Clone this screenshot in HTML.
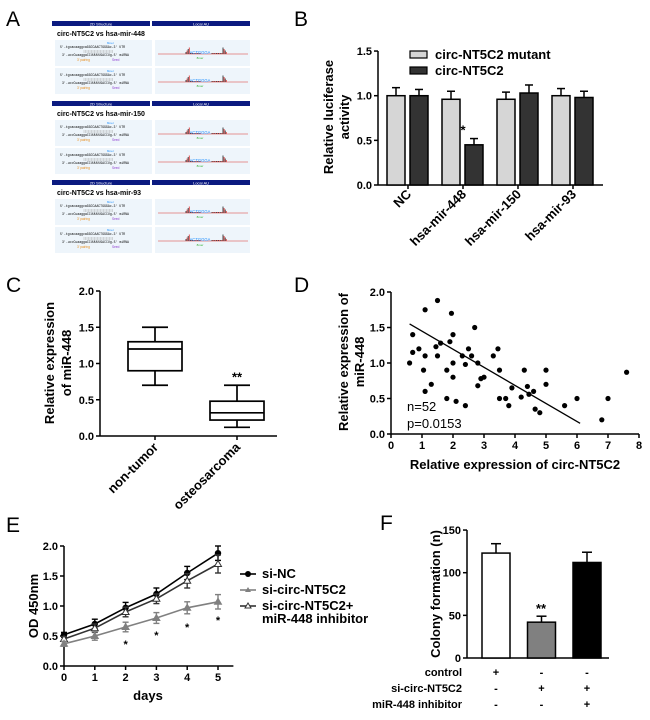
<!DOCTYPE html>
<html><head><meta charset="utf-8"><style>
body{margin:0;background:#fff}
svg{display:block;font-family:"Liberation Sans",Arial,sans-serif}
.t{font-weight:bold;font-size:11px}
.ttl{font-weight:bold;font-size:13px}
.pl{font-size:21px}
</style></head><body>
<svg id="s" width="650" height="720" viewBox="0 0 650 720">
<g>
<text class="pl" x="6" y="26">A</text><text class="pl" x="294" y="26">B</text>
<text class="pl" x="6" y="292">C</text><text class="pl" x="294" y="292">D</text>
<text class="pl" x="6" y="532">E</text><text class="pl" x="380" y="530">F</text>
</g>
<g id="pa"></g>
<g id="pb"></g>
<g id="pc"></g>
<g id="pd"></g>
<g id="pe"></g>
<g id="pf"></g>
</svg>
<script>
// Panel B data
const bCats=["NC","hsa-mir-448","hsa-mir-150","hsa-mir-93"];
const bMutant=[1.0,0.96,0.96,1.0];
const bMutantErr=[0.09,0.09,0.08,0.08];
const bCirc=[1.0,0.45,1.03,0.98];
const bCircErr=[0.07,0.07,0.09,0.07];
const bTicks=["0.0","0.5","1.0","1.5"];
// Panel C data
const cCats=["non-tumor","osteosarcoma"];
const cMin=[0.7,0.12],cQ1=[0.9,0.22],cMed=[1.2,0.32],cQ3=[1.3,0.48],cMax=[1.5,0.7];
const cTicks=["0.0","0.5","1.0","1.5","2.0"];
// Panel D data
const dX=[0.6,0.7,0.7,0.9,1.05,1.1,1.1,1.1,1.3,1.45,1.5,1.5,1.6,1.8,1.8,1.9,1.95,2.0,2.0,2.0,2.1,2.3,2.4,2.4,2.5,2.6,2.7,2.8,2.8,2.9,3.0,3.3,3.45,3.5,3.5,3.7,3.8,3.9,4.2,4.3,4.4,4.45,4.6,4.65,4.8,5.0,5.0,5.6,6.0,6.8,7.0,7.6];
const dY=[1.0,1.4,1.15,1.2,0.9,1.75,1.1,0.6,0.7,1.23,1.88,1.1,1.28,0.9,0.5,1.3,1.7,1.4,1.0,0.8,0.46,1.1,0.98,0.4,1.2,1.1,1.5,1.0,0.68,0.78,0.8,1.1,1.2,0.9,0.5,0.5,0.4,0.65,0.52,0.9,0.67,0.56,0.6,0.35,0.3,0.9,0.7,0.4,0.5,0.2,0.5,0.87];
const dFitX=[0.6,6.1],dFitY=[1.55,0.15];
const dXTicks=["0","1","2","3","4","5","6","7","8"];
const dYTicks=["0.0","0.5","1.0","1.5","2.0"];
// Panel E data
const eDays=[0,1,2,3,4,5];
const eNC=[0.52,0.7,0.97,1.2,1.55,1.88],eNCErr=[0.04,0.08,0.09,0.1,0.11,0.12];
const eSi=[0.37,0.5,0.65,0.8,0.97,1.07],eSiErr=[0.04,0.07,0.08,0.09,0.1,0.12];
const eInh=[0.45,0.63,0.9,1.12,1.42,1.7],eInhErr=[0.04,0.07,0.08,0.08,0.12,0.15];
const eStars=[null,null,0.4,0.55,0.68,0.8];
const eYTicks=["0.0","0.5","1.0","1.5","2.0"];
// Panel F data
const fVals=[123,42,112],fErr=[11,7,12];
const fColors=["#fff","#808080","#000"];
const fYTicks=[0,50,100,150];
const fRows=["control","si-circ-NT5C2","miR-448 inhibitor"];
const fSigns=[["+","-","-"],["-","+","+"],["-","-","+"]];

const NS="http://www.w3.org/2000/svg";
function mk(p,tag,a,txt){const e=document.createElementNS(NS,tag);for(const k in a)e.setAttribute(k,a[k]);if(txt!==undefined)e.textContent=txt;p.appendChild(e);return e;}
function ln(p,x1,y1,x2,y2,c,w){return mk(p,"line",{x1,y1,x2,y2,stroke:c||"#000","stroke-width":w||1.5});}
function errbar(p,x,y0,y1,hw){ln(p,x,y0,x,y1,"#000",1.5);ln(p,x-hw,y1,x+hw,y1,"#000",1.5);}

// ---------- Panel A ----------
(function(){
 const g=document.getElementById("pa");
 const blocks=[{y:21,t:"circ-NT5C2 vs hsa-mir-448"},{y:101,t:"circ-NT5C2 vs hsa-mir-150"},{y:180,t:"circ-NT5C2 vs hsa-mir-93"}];
 blocks.forEach((b,bi)=>{
  const h1=mk(g,"rect",{x:52,y:b.y,width:98,height:5,fill:"#0b1a80"});
  mk(g,"rect",{x:152,y:b.y,width:98,height:5,fill:"#0b1a80"});
  mk(g,"text",{x:101,y:b.y+4.3,"font-size":"4","text-anchor":"middle",fill:"#fff"},"2D Structure");
  mk(g,"text",{x:201,y:b.y+4.3,"font-size":"4","text-anchor":"middle",fill:"#fff"},"Local AU");
  const tt=mk(g,"text",{x:57,y:b.y+15,"font-size":"7","font-weight":"bold"},b.t);
  for(let s=0;s<2;s++){
   const y=b.y+19+s*28;
   mk(g,"rect",{x:55,y:y,width:97,height:26,fill:"#eef5fb"});
   mk(g,"rect",{x:155,y:y,width:95,height:26,fill:"#eef5fb"});
   mk(g,"text",{x:60,y:y+8,"font-size":"3.2","font-family":"Liberation Mono"},"5'-tgcacaaggcaGGCCAACTGGGAc-3' UTR");
   mk(g,"text",{x:62,y:y+16,"font-size":"3.2","font-family":"Liberation Mono"},"3'-uccCuaaggaCCUUUUUGACCUg-5' miRNA");
   mk(g,"text",{x:77,y:y+21,"font-size":"3.2",fill:"#e89020"},"3' pairing");
   mk(g,"text",{x:112,y:y+21,"font-size":"3.2",fill:"#9040d0"},"Seed");
   mk(g,"text",{x:107,y:y+4,"font-size":"3",fill:"#2090ff"},"8mer");
   for(let k=0;k<20;k++)ln(g,84+k*1.5,y+10,84+k*1.5,y+13,"#a0a0a0",0.4);
   const base=y+14;
   ln(g,158,base,248,base,"#e07070",0.8);
   for(let k=0;k<14;k++){const hx=186+k*1.1;ln(g,hx,base,hx,base-(k<4?2+k*1.5:1),k%2?"#e04040":"#333",0.9);}
   for(let k=0;k<14;k++){const hx=212+k*1.1;ln(g,hx,base,hx,base-(k>9?2+(13-k)*1.5:1),k%2?"#e04040":"#333",0.9);}
   mk(g,"text",{x:200,y:base,"font-size":"4.2","text-anchor":"middle",fill:"#2090ff"},"ACTGGGA");
   mk(g,"text",{x:200,y:base+5,"font-size":"3",  "text-anchor":"middle",fill:"#30b030"},"8mer");
  }
 });
})();

// ---------- Panel B ----------
(function(){
 const g=document.getElementById("pb");
 const X0=378,Y0=185,sc=89.3,xe=603;
 const y=v=>Y0-v*sc;
 ln(g,X0,Y0,xe,Y0);ln(g,X0,y(1.5),X0,Y0);
 bTicks.forEach(t=>{const v=parseFloat(t);ln(g,X0-4,y(v),X0,y(v));mk(g,"text",{class:"t",x:X0-6,y:y(v)+4,"text-anchor":"end"},t);});
 const yt=mk(g,"text",{class:"ttl","text-anchor":"middle",transform:"translate(333,117) rotate(-90)","font-size":"14"},"Relative luciferase");
 
 mk(g,"text",{class:"ttl","text-anchor":"middle",transform:"translate(349,117) rotate(-90)","font-size":"14"},"activity");
 bCats.forEach((c,i)=>{
  const cx=408+i*55;
  const r1=mk(g,"rect",{x:cx-21,y:y(bMutant[i]),width:18,height:bMutant[i]*sc,fill:"#d6d6d6",stroke:"#000","stroke-width":1.5});
  
  errbar(g,cx-12,y(bMutant[i]),y(bMutant[i]+bMutantErr[i]),4);
  const r2=mk(g,"rect",{x:cx+2,y:y(bCirc[i]),width:18,height:bCirc[i]*sc,fill:"#333",stroke:"#000","stroke-width":1.5});
  
  errbar(g,cx+11,y(bCirc[i]),y(bCirc[i]+bCircErr[i]),4);
  ln(g,cx,Y0,cx,Y0+4);
  const lb=mk(g,"text",{class:"ttl","text-anchor":"end",transform:`translate(${cx+4},${Y0+10}) rotate(-45)`},c);
  
 });
 mk(g,"text",{class:"ttl",x:463,y:y(0.45+0.07)-4,"text-anchor":"middle"},"*");
 const lg=mk(g,"g",{});
 mk(lg,"rect",{x:410,y:51,width:17,height:7,fill:"#d6d6d6",stroke:"#000","stroke-width":1.2});
 mk(lg,"text",{class:"ttl",x:435,y:59},"circ-NT5C2 mutant");
 mk(lg,"rect",{x:410,y:67,width:17,height:7,fill:"#333",stroke:"#000","stroke-width":1.2});
 mk(lg,"text",{class:"ttl",x:435,y:75},"circ-NT5C2");
})();

// ---------- Panel C ----------
(function(){
 const g=document.getElementById("pc");
 const X0=100,Y0=436,sc=72.5,xe=277;
 const y=v=>Y0-v*sc;
 ln(g,X0,Y0,xe,Y0);ln(g,X0,y(2),X0,Y0);
 cTicks.forEach(t=>{const v=parseFloat(t);ln(g,X0-4,y(v),X0,y(v));mk(g,"text",{class:"t",x:X0-6,y:y(v)+4,"text-anchor":"end"},t);});
 mk(g,"text",{class:"ttl","text-anchor":"middle",transform:"translate(54,363) rotate(-90)","font-size":"14"},"Relative expression");
 mk(g,"text",{class:"ttl","text-anchor":"middle",transform:"translate(71,363) rotate(-90)","font-size":"14"},"of miR-448");
 cCats.forEach((c,i)=>{
  const cx=155+i*82,hw=27;
  const b=mk(g,"rect",{x:cx-hw,y:y(cQ3[i]),width:2*hw,height:(cQ3[i]-cQ1[i])*sc,fill:"#fff",stroke:"#000","stroke-width":1.7});
  
  ln(g,cx-hw,y(cMed[i]),cx+hw,y(cMed[i]),"#000",1.7);
  ln(g,cx,y(cQ3[i]),cx,y(cMax[i]),"#000",1.7);ln(g,cx-13,y(cMax[i]),cx+13,y(cMax[i]),"#000",1.7);
  ln(g,cx,y(cQ1[i]),cx,y(cMin[i]),"#000",1.7);ln(g,cx-13,y(cMin[i]),cx+13,y(cMin[i]),"#000",1.7);
  ln(g,cx,Y0,cx,Y0+4);
  mk(g,"text",{class:"ttl","text-anchor":"end",transform:`translate(${cx+4},${Y0+12}) rotate(-45)`},c);
 });
 mk(g,"text",{class:"ttl",x:237,y:y(0.7)-4,"text-anchor":"middle","font-size":"15"},"**");
})();

// ---------- Panel D ----------
(function(){
 const g=document.getElementById("pd");
 const X0=391,Y0=434,sx=31,sy=71;
 const x=v=>X0+v*sx,y=v=>Y0-v*sy;
 ln(g,X0,Y0,x(8),Y0);ln(g,X0,y(2),X0,Y0);
 dYTicks.forEach(t=>{const v=parseFloat(t);ln(g,X0-4,y(v),X0,y(v));mk(g,"text",{class:"t",x:X0-6,y:y(v)+4,"text-anchor":"end"},t);});
 dXTicks.forEach(t=>{const v=parseFloat(t);ln(g,x(v),Y0,x(v),Y0+4);mk(g,"text",{class:"t",x:x(v),y:Y0+15,"text-anchor":"middle"},t);});
 mk(g,"text",{class:"ttl","text-anchor":"middle",transform:"translate(348,362) rotate(-90)"},"Relative expression of");
 mk(g,"text",{class:"ttl","text-anchor":"middle",transform:"translate(364,362) rotate(-90)"},"miR-448");
 mk(g,"text",{class:"ttl",x:x(4),y:469,"text-anchor":"middle"},"Relative expression of circ-NT5C2");
 dX.forEach((v,i)=>{const c=mk(g,"circle",{cx:x(v),cy:y(dY[i]),r:2.6,fill:"#000"});
  });
 const fl=ln(g,x(dFitX[0]),y(dFitY[0]),x(dFitX[1]),y(dFitY[1]),"#000",1.3);
 
 mk(g,"text",{x:407,y:411,"font-size":"13"},"n=52");
 mk(g,"text",{x:407,y:428,"font-size":"13"},"p=0.0153");
})();

// ---------- Panel E ----------
(function(){
 const g=document.getElementById("pe");
 const X0=64,Y0=666,sx=30.8,sy=60;
 const x=v=>X0+v*sx,y=v=>Y0-v*sy;
 ln(g,X0,Y0,x(5.5),Y0);ln(g,X0,y(2),X0,Y0);
 eYTicks.forEach(t=>{const v=parseFloat(t);ln(g,X0-4,y(v),X0,y(v));mk(g,"text",{class:"t",x:X0-6,y:y(v)+4,"text-anchor":"end"},t);});
 eDays.forEach(d=>{ln(g,x(d),Y0,x(d),Y0+4);mk(g,"text",{class:"t",x:x(d),y:Y0+15,"text-anchor":"middle"},String(d));});
 mk(g,"text",{class:"ttl","text-anchor":"middle",transform:"translate(38,606) rotate(-90)","font-size":"14"},"OD 450nm");
 mk(g,"text",{class:"ttl",x:148,y:700,"text-anchor":"middle","font-size":"14"},"days");
 const series=[{v:eNC,e:eNCErr,c:"#000",m:"circle",n:"series-si-nc"},{v:eInh,e:eInhErr,c:"#333",m:"open",n:"series-inhibitor"},{v:eSi,e:eSiErr,c:"#808080",m:"tri",n:"series-si-circ"}];
 series.forEach(s=>{
  const pts=s.v.map((v,i)=>x(eDays[i])+","+y(v)).join(" ");
  const pl=mk(g,"polyline",{points:pts,fill:"none",stroke:s.c,"stroke-width":1.6});
  
  s.v.forEach((v,i)=>{
   const cx=x(eDays[i]),cy=y(v);
   mk(g,"line",{x1:cx,y1:y(v-s.e[i]),x2:cx,y2:y(v+s.e[i]),stroke:s.c,"stroke-width":1.4});
   ln(g,cx-3,y(v-s.e[i]),cx+3,y(v-s.e[i]),s.c,1.4);ln(g,cx-3,y(v+s.e[i]),cx+3,y(v+s.e[i]),s.c,1.4);
   if(s.m==="circle")mk(g,"circle",{cx,cy,r:3.2,fill:"#000"});
   else mk(g,"polygon",{points:`${cx},${cy-3.5} ${cx-3.5},${cy+2.5} ${cx+3.5},${cy+2.5}`,fill:s.m==="open"?"#fff":s.c,stroke:s.c,"stroke-width":1});
  });
 });
 eStars.forEach((v,i)=>{if(v!==null)mk(g,"text",{class:"t",x:x(eDays[i]),y:y(v)+6,"text-anchor":"middle"},"*");});
 const lg=mk(g,"g",{});
 ln(lg,240,574,256,574,"#000",1.6);mk(lg,"circle",{cx:248,cy:574,r:3,fill:"#000"});
 mk(lg,"text",{class:"ttl",x:262,y:578},"si-NC");
 ln(lg,240,590,256,590,"#808080",1.6);mk(lg,"polygon",{points:"248,587 245,592 251,592",fill:"#808080"});
 mk(lg,"text",{class:"ttl",x:262,y:594},"si-circ-NT5C2");
 ln(lg,240,606,256,606,"#333",1.6);mk(lg,"polygon",{points:"248,603 245,608 251,608",fill:"#fff",stroke:"#333"});
 mk(lg,"text",{class:"ttl",x:262,y:610},"si-circ-NT5C2+");
 mk(lg,"text",{class:"ttl",x:262,y:623},"miR-448 inhibitor");
})();

// ---------- Panel F ----------
(function(){
 const g=document.getElementById("pf");
 const X0=467,Y0=658,sc=0.853,xe=609;
 const y=v=>Y0-v*sc;
 ln(g,X0,Y0,xe,Y0);ln(g,X0,y(150),X0,Y0);
 fYTicks.forEach(v=>{ln(g,X0-4,y(v),X0,y(v));mk(g,"text",{class:"t",x:X0-6,y:y(v)+4,"text-anchor":"end"},String(v));});
 mk(g,"text",{class:"ttl","text-anchor":"middle",transform:"translate(440,594) rotate(-90)","font-size":"14"},"Colony formation (n)");
 fVals.forEach((v,i)=>{
  const cx=496+i*45.5;
  const r=mk(g,"rect",{x:cx-14,y:y(v),width:28,height:v*sc,fill:fColors[i],stroke:"#000","stroke-width":1.5});
  
  errbar(g,cx,y(v),y(v+fErr[i]),5);
 });
 mk(g,"text",{class:"ttl",x:541,y:y(42+7)-3,"text-anchor":"middle"},"**");
 fRows.forEach((r,ri)=>{
  const yy=676+ri*16;
  mk(g,"text",{class:"t",x:462,y:yy,"text-anchor":"end"},r);
  fSigns[ri].forEach((s,i)=>mk(g,"text",{class:"t",x:496+i*45.5,y:yy,"text-anchor":"middle"},s));
 });
})();
</script>
</body></html>
